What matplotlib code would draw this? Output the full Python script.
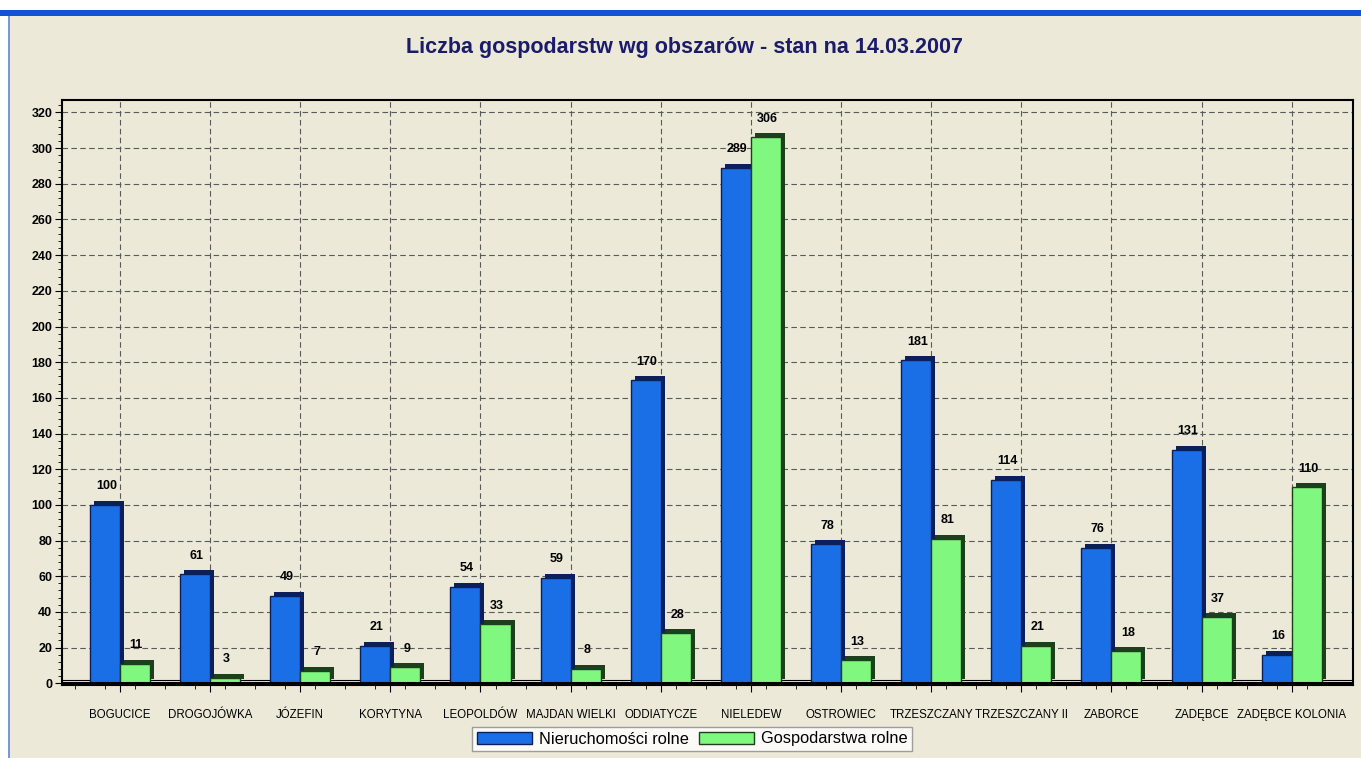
import numpy as np
import matplotlib
matplotlib.use("Agg")
import matplotlib.pyplot as plt
import matplotlib.transforms as mtransforms
from matplotlib.patches import Rectangle, Patch
from matplotlib.ticker import MultipleLocator

categories = ["BOGUCICE", "DROGOJÓWKA", "JÓZEFIN", "KORYTYNA", "LEOPOLDÓW",
              "MAJDAN WIELKI", "ODDIATYCZE", "NIELEDEW", "OSTROWIEC", "TRZESZCZANY",
              "TRZESZCZANY II", "ZABORCE", "ZADĘBCE", "ZADĘBCE KOLONIA"]
nieruchomosci = [100, 61, 49, 21, 54, 59, 170, 289, 78, 181, 114, 76, 131, 16]
gospodarstwa = [11, 3, 7, 9, 33, 8, 28, 306, 13, 81, 21, 18, 37, 110]

bg = "#ECE9D8"
blue, blue_dark = "#1A6FE6", "#0B1F5C"
green, green_dark = "#80F880", "#1C3F1C"

plt.rcParams['font.family'] = ['Liberation Sans', 'DejaVu Sans']

fig = plt.figure(figsize=(13.61, 7.58), dpi=100, facecolor=bg)
# window chrome: white margin + blue title strip
fig.patches.append(Rectangle((0, 1 - 10/758), 1, 10/758, transform=fig.transFigure,
                             facecolor="white", edgecolor="none", zorder=0))
fig.patches.append(Rectangle((0, 1 - 16/758), 1, 6/758, transform=fig.transFigure,
                             facecolor="#1450D8", edgecolor="none", zorder=0))
fig.patches.append(Rectangle((0, 0), 8/1361, 1 - 16/758, transform=fig.transFigure,
                             facecolor="white", edgecolor="none", zorder=0))
fig.patches.append(Rectangle((8/1361, 0), 2/1361, 1 - 16/758, transform=fig.transFigure,
                             facecolor="#7A96DF", edgecolor="none", zorder=0))

ax = fig.add_axes([62/1361, 1 - 685/758, (1353 - 62)/1361, (685 - 100)/758])
ax.set_facecolor(bg)

x = np.arange(len(categories))
w = 0.333
shadow = mtransforms.offset_copy(ax.transData, fig=fig, x=4, y=4, units='dots')

ax.bar(x - w/2, nieruchomosci, w, color=blue_dark, transform=shadow, zorder=2)
ax.bar(x + w/2, gospodarstwa, w, color=green_dark, transform=shadow, zorder=2)
ax.bar(x - w/2, nieruchomosci, w, color=blue, edgecolor=blue_dark, linewidth=1, zorder=3)
ax.bar(x + w/2, gospodarstwa, w, color=green, edgecolor=green_dark, linewidth=1, zorder=3)

for xi, v in zip(x - w/2, nieruchomosci):
    ax.annotate(str(v), (xi, v), xytext=(1, 9), textcoords='offset points',
                ha='center', va='bottom', fontsize=9, fontweight='bold', zorder=5)
for xi, v in zip(x + w/2, gospodarstwa):
    ax.annotate(str(v), (xi, v), xytext=(1, 9), textcoords='offset points',
                ha='center', va='bottom', fontsize=9, fontweight='bold', zorder=5)

# floor line
ax.axhline(0, color="black", linewidth=1.5, zorder=4)
ax.axhline(1.6, color="black", linewidth=0.8, zorder=1)

ax.set_xlim(-0.643, 13.68)
ax.set_ylim(-1, 327)
ax.yaxis.set_major_locator(MultipleLocator(20))
ax.yaxis.set_minor_locator(MultipleLocator(4))
ax.set_xticks(x)
ax.set_xticklabels(categories, fontsize=8.3, fontstretch='condensed')
ax.set_xticks(np.concatenate([x - w/2, x + w/2, x - 1.5*w]), minor=True)
ax.tick_params(axis='y', labelsize=9, length=5, width=0.8, pad=2)
ax.tick_params(axis='y', which='minor', length=3, width=0.6)
ax.tick_params(axis='x', length=5, width=0.8, pad=12)
ax.tick_params(axis='x', which='minor', length=3, width=0.6)
for lab in ax.get_yticklabels():
    lab.set_fontweight('bold')

ax.grid(True, which='major', linestyle=(0, (5, 3)), color="#5A5A5A", linewidth=0.8, zorder=0)
ax.set_axisbelow(True)
for s in ax.spines.values():
    s.set_linewidth(1.5)
    s.set_color("black")

fig.text(684/1361, 1 - 47/758, "Liczba gospodarstw wg obszarów - stan na 14.03.2007",
         ha='center', va='center', fontsize=15.5, fontweight='bold', color="#1B1B6B")

handles = [Patch(facecolor=blue, edgecolor=blue_dark, label="Nieruchomości rolne"),
           Patch(facecolor=green, edgecolor=green_dark, label="Gospodarstwa rolne")]
leg = fig.legend(handles=handles, loc='center', bbox_to_anchor=(692/1361, 1 - 739/758),
                 ncol=2, frameon=True, fancybox=False, handlelength=3.4,
                 handleheight=0.7, handletextpad=0.4, columnspacing=0.6,
                 borderpad=0.25, prop={'size': 11.8})
leg.get_frame().set_edgecolor("#888888")
leg.get_frame().set_facecolor("white")
leg.get_frame().set_linewidth(1)

fig.savefig("out.png", dpi=100, facecolor=bg)
